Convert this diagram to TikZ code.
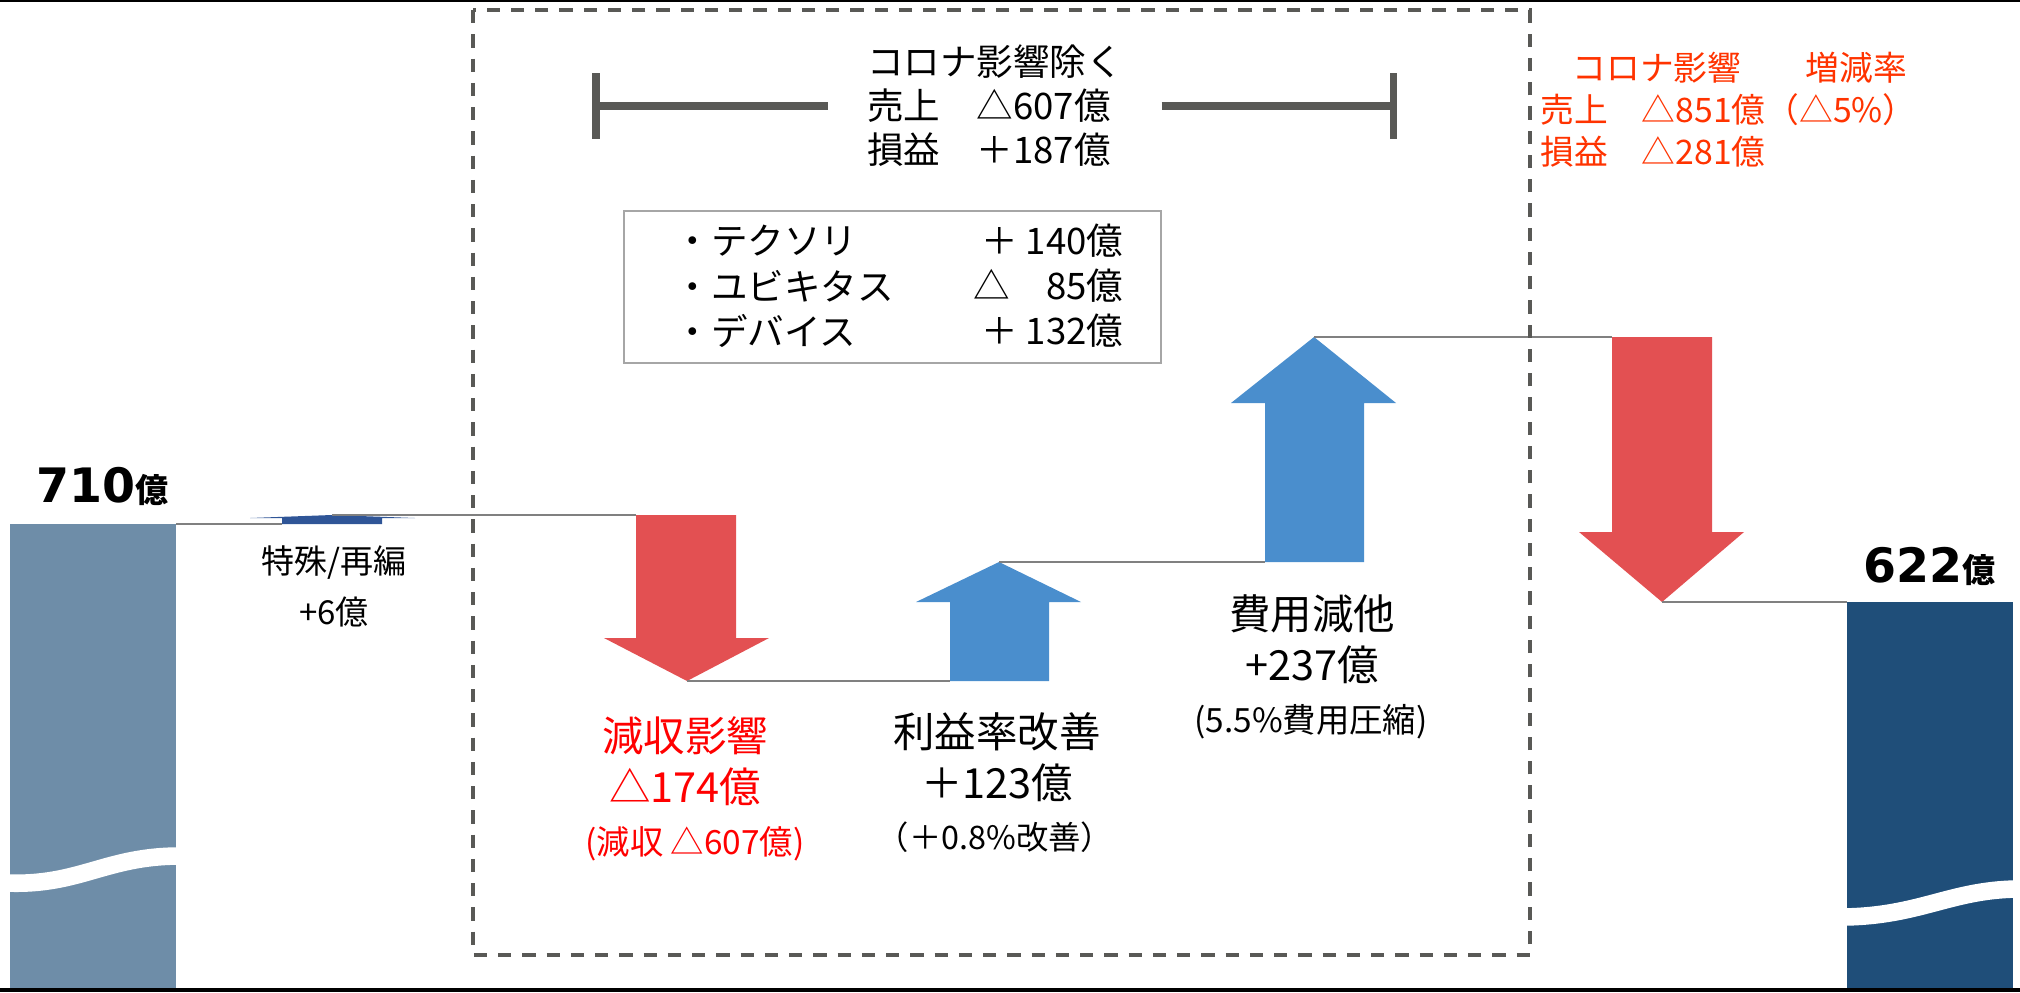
\documentclass[tikz,border=0pt]{standalone}
\usepackage{fontspec}
\setmainfont{Noto Sans CJK JP}
\newfontfamily\numfont{DejaVu Sans}
\usepackage{xcolor}
\definecolor{barleft}{RGB}{110,141,168}
\definecolor{barright}{RGB}{31,78,121}
\definecolor{downred}{RGB}{227,80,82}
\definecolor{upblue}{RGB}{74,142,205}
\definecolor{smallblue}{RGB}{47,85,151}
\definecolor{linegray}{RGB}{128,128,128}
\definecolor{framegray}{RGB}{89,89,86}
\definecolor{segframe}{RGB}{166,166,166}
\definecolor{coronared}{RGB}{255,51,0}

\begin{document}
\begin{tikzpicture}[x=0.1mm, y=-0.1mm,
    link/.style={draw=linegray, line width=0.6pt},
    wave/.style={draw=white, line width=5pt},
    bracket/.style={draw=framegray, line width=2pt},
    txt/.style={inner sep=0pt, align=center},
    hdtxt/.style={txt, font=\fontsize{10.4}{12.5}\selectfont},
    bigtxt/.style={txt, font=\fontsize{11.8}{14.5}\selectfont},
    subtxt/.style={txt, font=\fontsize{9.5}{11}\selectfont},
    redtxt/.style={inner sep=0pt, anchor=west, text=coronared, font=\fontsize{9.6}{11}\selectfont}]
    \useasboundingbox (0,0) rectangle (2020,992);

    % bars
    \fill[barleft] (10,524) coordinate (startTop) rectangle (176,989);
    \draw[wave] (6,883) .. controls (80,886) and (105,856) .. (180,856);
    \fill[barright] (1847,602) coordinate (endTop) rectangle (2013,989);
    \draw[wave] (1843,917) .. controls (1920,916) and (1950,890) .. (2017,889);

    % arrows
    \fill[smallblue] (282,524) coordinate (specBase) -- (282,518) -- (250,518) -- (332,515) coordinate (specTip)
        -- (415,518) -- (382,518) -- (382,524) -- cycle;
    \fill[downred] (636,515) coordinate (cutTop) -- (736,515) -- (736,638) -- (769,638) -- (687,681) coordinate (cutTip)
        -- (604,638) -- (636,638) -- cycle;
    \fill[upblue] (950,681) coordinate (rateBase) -- (950,602) -- (916,602) -- (999,562) coordinate (rateTip)
        -- (1081,602) -- (1049,602) -- (1049,681) -- cycle;
    \fill[upblue] (1265,562) coordinate (costBase) -- (1265,403) -- (1231,403) -- (1314,337) coordinate (costTip)
        -- (1396,403) -- (1364,403) -- (1364,562) -- cycle;
    \fill[downred] (1612,337) coordinate (coronaTop) -- (1712,337) -- (1712,532) -- (1744,532) -- (1662,602) coordinate (coronaTip)
        -- (1579,532) -- (1612,532) -- cycle;

    % steps
    \draw[link] ([xshift=16.6mm]startTop) -- (specBase);
    \draw[link] (specTip) -- (cutTop);
    \draw[link] (cutTip) -- (rateBase);
    \draw[link] (rateTip) -- (costBase);
    \draw[link] (costTip) -- (coronaTop);
    \draw[link] (coronaTip) -- (endTop);

    \node[inner sep=0pt, anchor=base west] (startVal) at (36,502)
        {\numfont\bfseries\fontsize{13.5}{15}\selectfont 710{\rmfamily\fontsize{9.4}{10}\selectfont 億}};
    \node[inner sep=0pt, anchor=base west] (endVal) at (1863,582)
        {\numfont\bfseries\fontsize{13.5}{15}\selectfont 622{\rmfamily\fontsize{9.4}{10}\selectfont 億}};

    \node[txt, font=\fontsize{9.4}{14.5}\selectfont] (specLabel) at (334,586) {特殊/再編\\+6億};
    \node[bigtxt, text=red] (cutLabel) at (685,761) {減収影響\\△174億};
    \node[subtxt, text=red] (cutNote) at (695,844) {(減収 △607億)};
    \node[bigtxt] (rateLabel) at (997,757) {利益率改善\\＋123億};
    \node[txt, font=\fontsize{9.2}{10}\selectfont] (rateNote) at (995,837) {（＋0.8\%改善）};
    \node[bigtxt] (costLabel) at (1312,639) {費用減他\\+237億};
    \node[subtxt] (costNote) at (1311,722) {(5.5\%費用圧縮)};

    % corona block
    \draw[framegray, line width=1pt, dash pattern=on 3.8pt off 3.1pt] (473,10) rectangle (1530,955);
    \node[hdtxt, align=left] (exclHead) at (995,106) {コロナ影響除く\\売上　△607億\\損益　＋187億};
    \coordinate (brL) at (596,106);
    \coordinate (brR) at (1393,106);
    \draw[bracket] (brL) -- ([xshift=-3.8mm]exclHead.west);
    \draw[bracket] ([xshift=3.8mm]exclHead.east) -- (brR);
    \draw[bracket] ([yshift=3.3mm]brL) -- ([yshift=-3.3mm]brL);
    \draw[bracket] ([yshift=3.3mm]brR) -- ([yshift=-3.3mm]brR);

    \draw[segframe, line width=0.5pt] (624,211) rectangle (1161,363);
    \node[hdtxt, anchor=west] (techName) at (674,241) {・テクソリ};
    \node[hdtxt, anchor=east] (techVal) at (1124,241) {＋ 140億};
    \node[hdtxt, anchor=west] (ubiName) at (674,286) {・ユビキタス};
    \node[hdtxt, anchor=east] (ubiVal) at (1124,286) {△　85億};
    \node[hdtxt, anchor=west] (devName) at (674,331) {・デバイス};
    \node[hdtxt, anchor=east] (devVal) at (1124,331) {＋ 132億};

    \node[redtxt] (coronaHead) at (1572,68) {コロナ影響};
    \node[redtxt] (changeHead) at (1805,68) {増減率};
    \node[redtxt] (coronaSales) at (1540,110) {売上　△851億（△5\%）};
    \node[redtxt] (coronaProfit) at (1540,152) {損益　△281億};

    \draw[black, line width=0.6pt] (0,1) -- (2020,1);
    \draw[black, line width=1.2pt] (0,990) -- (2020,990);
\end{tikzpicture}
\end{document}
